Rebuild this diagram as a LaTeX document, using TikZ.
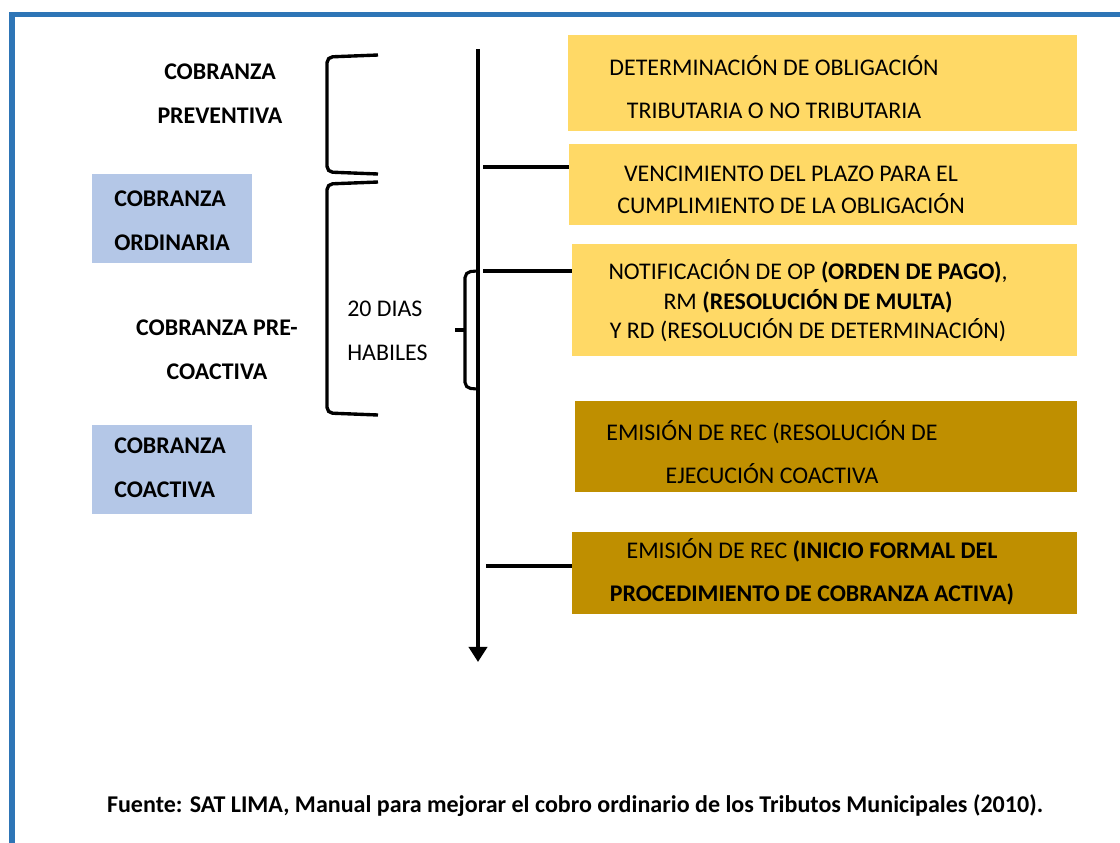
\documentclass[tikz,border=0pt]{standalone}
\usepackage{fontspec}
\setmainfont{Carlito}
\usetikzlibrary{arrows.meta}
\definecolor{amarillo}{HTML}{FFD966}
\definecolor{dorado}{HTML}{BF8F00}
\definecolor{celeste}{HTML}{B4C7E7}
\definecolor{azulmarco}{HTML}{2E75B6}
\begin{document}
\begin{tikzpicture}[x=0.025cm, y=-0.025cm]
\tikzset{caja/.style={inner sep=0pt, minimum width=12.6cm},
  texto/.style={inner sep=0pt, align=center, font=\fontsize{17}{30.5}\selectfont},
  etiq/.style={inner sep=0pt, align=center, font=\bfseries\fontsize{17}{31.3}\selectfont},
  llave/.style={line width=2.4pt, rounded corners=4pt},
  conector/.style={line width=2.5pt}}
\useasboundingbox (0,0) rectangle (1120,843);
\draw[azulmarco, line width=3.6pt] (12,843) -- (12,14.5) -- (1120,14.5);
\node[caja, fill=amarillo, minimum width=12.725cm, minimum height=2.4cm] (B1) at (822.5,83) {};
\node[caja, fill=amarillo, minimum width=12.7cm, minimum height=2.025cm] (B2) at (823,184.5) {};
\node[caja, fill=amarillo, minimum width=12.625cm, minimum height=2.8cm] (B3) at (824.5,300) {};
\node[caja, fill=dorado, minimum width=12.55cm, minimum height=2.275cm] (B4) at (826,446.5) {};
\node[caja, fill=dorado, minimum width=12.625cm, minimum height=2.05cm] (B5) at (824.5,573) {};
\node[caja, fill=celeste, minimum width=4cm, minimum height=2.225cm] (A1) at (172,218.5) {};
\node[caja, fill=celeste, minimum width=4cm, minimum height=2.225cm] (A2) at (172,469.5) {};
\node[texto] (T1) at (774,87) {DETERMINACIÓN DE OBLIGACIÓN\\TRIBUTARIA O NO TRIBUTARIA};
\node[texto, font=\fontsize{17}{22.8}\selectfont] (T2) at (791,190) {VENCIMIENTO DEL PLAZO PARA EL\\CUMPLIMIENTO DE LA OBLIGACIÓN};
\node[texto, font=\fontsize{17}{21}\selectfont] (T3) at (808,301) {NOTIFICACIÓN DE OP \textbf{(ORDEN DE PAGO)},\\RM \textbf{(RESOLUCIÓN DE MULTA)}\\Y RD (RESOLUCIÓN DE DETERMINACIÓN)};
\node[texto] (T4) at (772,452) {EMISIÓN DE REC (RESOLUCIÓN DE\\EJECUCIÓN COACTIVA};
\node[texto] (T5) at (812,572) {EMISIÓN DE REC \textbf{(INICIO FORMAL DEL}\\\textbf{PROCEDIMIENTO DE COBRANZA ACTIVA)}};
\node[etiq] (L1) at (220,94) {COBRANZA\\PREVENTIVA};
\node[etiq, anchor=west, align=left] (L2) at (114,221) {COBRANZA\\ORDINARIA};
\node[etiq] (L3) at (217,350) {COBRANZA PRE-\\COACTIVA};
\node[etiq, anchor=west, align=left] (L4) at (114,468) {COBRANZA\\COACTIVA};
\node[texto, anchor=west, align=left, font=\fontsize{17}{31.3}\selectfont] (D1) at (347,331) {20 DIAS\\HABILES};
\node[inner sep=0pt, font=\bfseries\fontsize{17.1}{20}\selectfont] (F1) at (575,806) {Fuente: SAT LIMA, Manual para mejorar el cobro ordinario de los Tributos Municipales (2010).};
\coordinate (E0) at (478,49);
\coordinate (E1) at (478,662);
\draw[line width=3pt, -{Triangle[width=12.8pt,length=10.7pt]}] (E0) -- (E1);
\coordinate (P2) at (483,167);
\coordinate (P3) at (483,271);
\coordinate (P5) at (486,566);
\draw[conector] (P2) -- (P2 -| B2.west);
\draw[conector] (P3) -- (P3 -| B3.west);
\draw[conector] (P5) -- (P5 -| B5.west);
\draw[llave] (378,55) -- (327,57) -- (327,172) -- (378,174);
\draw[llave] (378,182) -- (327,184) -- (327,413) -- (378,415);
\draw[llave, line width=2.2pt] (477,271) -- (465,272) -- (465,388) -- (477,389);
\draw[line width=2.2pt] (455,330) -- (465,330);
\end{tikzpicture}
\end{document}
